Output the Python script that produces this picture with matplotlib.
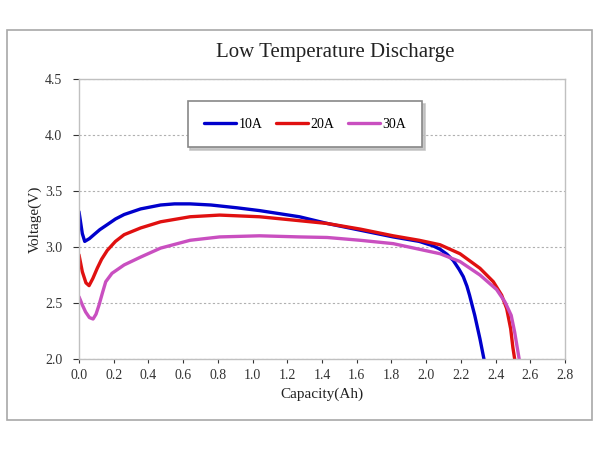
import numpy as np
import matplotlib.pyplot as plt
from matplotlib.patches import Rectangle

plt.rcParams['font.family'] = ['Liberation Serif', 'DejaVu Serif']

# discharge curves
cap_10 = [0.0, 0.019, 0.033, 0.06, 0.086, 0.12, 0.163, 0.21, 0.26, 0.355, 0.47, 0.55, 0.64, 0.76,
          0.91, 1.04, 1.27, 1.43, 1.62, 1.81, 1.96, 2.04, 2.08, 2.12, 2.156, 2.19, 2.214, 2.235,
          2.25, 2.265, 2.28, 2.31, 2.333, 2.35]
volt_10 = [3.315, 3.12, 3.05, 3.075, 3.11, 3.155, 3.20, 3.25, 3.29, 3.34, 3.375, 3.385, 3.385, 3.375,
           3.35, 3.325, 3.27, 3.21, 3.15, 3.09, 3.05, 3.01, 2.98, 2.935, 2.88, 2.80, 2.735, 2.65,
           2.57, 2.48, 2.39, 2.18, 2.0, 1.88]

cap_20 = [0.0, 0.019, 0.04, 0.058, 0.08, 0.105, 0.13, 0.163, 0.21, 0.26, 0.355, 0.47, 0.64, 0.81,
          1.04, 1.27, 1.43, 1.62, 1.81, 1.96, 2.08, 2.195, 2.31, 2.387, 2.435, 2.464, 2.487,
          2.50, 2.51, 2.517]
volt_20 = [2.93, 2.78, 2.68, 2.655, 2.72, 2.81, 2.89, 2.97, 3.05, 3.11, 3.17, 3.225, 3.27, 3.285,
           3.27, 3.235, 3.21, 3.16, 3.10, 3.06, 3.02, 2.94, 2.81, 2.69, 2.57, 2.45, 2.27,
           2.10, 2.0, 1.88]

cap_30 = [0.0, 0.02, 0.038, 0.06, 0.081, 0.098, 0.115, 0.135, 0.154, 0.19, 0.26, 0.355, 0.47, 0.64,
          0.81, 1.04, 1.27, 1.43, 1.62, 1.81, 1.96, 2.08, 2.195, 2.31, 2.406, 2.454, 2.49, 2.51,
          2.525, 2.536, 2.545]
volt_30 = [2.556, 2.48, 2.42, 2.37, 2.357, 2.40, 2.48, 2.59, 2.69, 2.765, 2.84, 2.91, 2.99, 3.06,
           3.09, 3.10, 3.09, 3.085, 3.06, 3.03, 2.98, 2.94, 2.87, 2.75, 2.62, 2.51, 2.39, 2.24,
           2.10, 2.0, 1.88]

labels = ['10A', '20A', '30A']
colors = ['#0000CC', '#E01010', '#C94FC0']

fig = plt.figure(figsize=(6, 4.5), dpi=100)

# outer chart frame
frame = Rectangle((7/600, 1 - 420/450), 585/600, 390/450, transform=fig.transFigure,
                  fill=False, edgecolor='#a8a8a8', linewidth=1.2)
fig.patches.append(frame)

ax = fig.add_axes([79/600, 1 - 359/450, 486/600, 280/450])
for x, y, lab, c in zip([cap_10, cap_20, cap_30], [volt_10, volt_20, volt_30], labels, colors):
    ax.plot(x, y, color=c, lw=2.4, label=lab, solid_capstyle='round', solid_joinstyle='round')

ax.set_xlim(0, 2.8)
ax.set_ylim(2.0, 4.5)
xt = np.arange(0, 2.81, 0.2)
yt = np.arange(2.0, 4.51, 0.5)
ax.set_xticks(xt)
ax.set_xticklabels([f'{v:.1f}' for v in xt])
ax.set_yticks(yt)
ax.set_yticklabels([f'{v:.1f}' for v in yt])
ax.tick_params(labelsize=10, colors='#333333', length=3, width=0.8)
ax.tick_params(axis='y', length=4, pad=8)
ax.tick_params(axis='x', direction='out', pad=4)
ax.yaxis.grid(True, linestyle=(0, (2, 2)), color='#b0b0b0', linewidth=0.8)
ax.set_axisbelow(True)
for s in ax.spines.values():
    s.set_color('#c0c0c0')
    s.set_linewidth(1.0)

ax.set_xlabel('Capacity(Ah)', fontsize=11, color='#222222', labelpad=4)
ax.set_ylabel('Voltage(V)', fontsize=11, color='#222222', labelpad=2)
fig.text(335/600, 1 - 52/450, 'Low Temperature Discharge', fontsize=15, ha='center',
         va='center', color='#222222')

leg = ax.legend(loc='center', ncol=3, frameon=True, fontsize=10, handlelength=2.3,
                handletextpad=0.15, columnspacing=1.0, borderpad=1.2, borderaxespad=0,
                shadow={'color': '#bbbbbb', 'alpha': 0.8}, fancybox=False, edgecolor='#888888')
leg.set_bbox_to_anchor((305/600, 1 - 124/450), transform=fig.transFigure)
leg.get_frame().set_linewidth(1.2)

fig.savefig('out.png', dpi=100, facecolor='white')
